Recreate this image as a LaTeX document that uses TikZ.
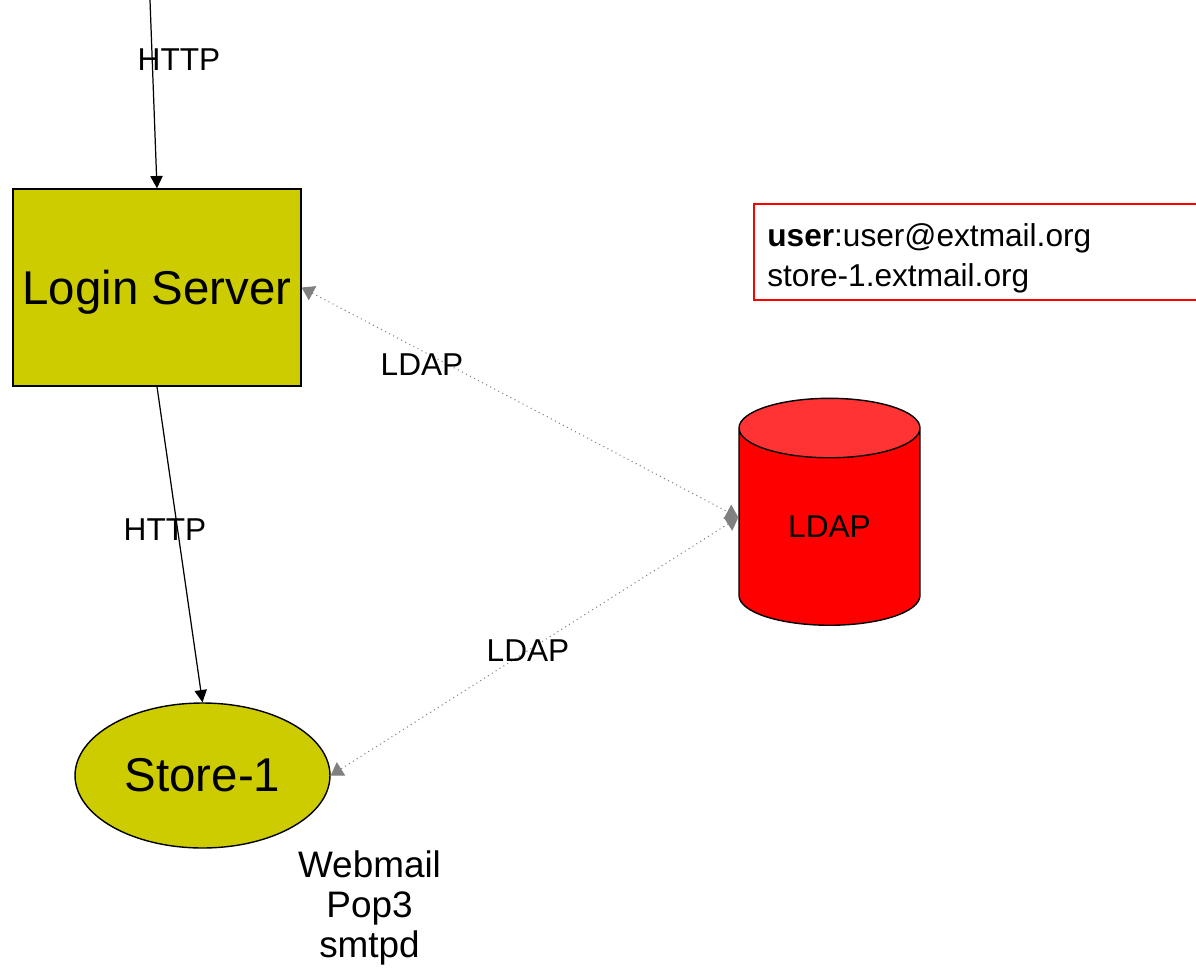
\documentclass[tikz,border=0pt]{standalone}
\usepackage{fontspec}
\setmainfont{Liberation Sans}
\usetikzlibrary{shapes.geometric,arrows.meta}

\begin{document}
\begin{tikzpicture}[x=0.02cm,y=-0.02cm,
olive/.style={draw,fill=oliveyellow,line width=0.8pt,inner sep=0pt},
http/.style={-{Triangle[length=7pt,width=7pt]},line width=0.7pt},
ldap/.style={{Triangle[length=7pt,width=9pt,fill=arrowgray,color=arrowgray]}-{Triangle[length=7pt,width=9pt,fill=arrowgray,color=arrowgray]},
  draw=arrowgray,dotted,line width=0.6pt},
small/.style={font=\fontsize{18}{20}\selectfont,inner sep=0pt}]
\definecolor{oliveyellow}{HTML}{CCCC00}
\definecolor{arrowgray}{HTML}{808080}
\definecolor{cylred}{HTML}{FF0000}
\definecolor{cyltop}{HTML}{FF3333}
\useasboundingbox (0,0) rectangle (1196,977);

% servers
\node[olive,rectangle,minimum width=5.76cm,minimum height=3.94cm,text depth=0pt,
  font=\fontsize{27}{30}\selectfont] (login) at (157,287.5) {Login Server};
\node[olive,ellipse,minimum width=5.1cm,minimum height=2.9cm,
  font=\fontsize{27}{30}\selectfont] (store) at (202.5,775.5) {Store-1};
\node[cylinder,shape border rotate=90,aspect=0.72,draw,line width=0.8pt,
  cylinder uses custom fill,cylinder body fill=cylred,cylinder end fill=cyltop,
  minimum width=3.62cm,minimum height=4.54cm,small] (ldapdb) at (829.5,527) {LDAP};

% user box
\draw[red,line width=0.7pt] (754,204) rectangle (1210,300);
\node[anchor=north west,align=left,inner sep=0pt,font=\fontsize{18}{23}\selectfont] (usertext) at (767,223)
  {\textbf{user}:user@extmail.org\\store-1.extmail.org};

\node[font=\fontsize{21}{22.7}\selectfont,align=center,inner sep=0pt] (services) at (369.5,908)
  {Webmail\\Pop3\\smtpd};

% connections
\coordinate (client) at (150,0);
\draw[http] (client) -- (login.north);
\draw[http] (login.south) -- (store.north);
\draw[ldap] (login.east) -- (ldapdb.174);
\draw[ldap] (ldapdb.174) -- (store.east);

% labels
\node[small] (http1) at (179,60) {HTTP};
\node[small] (http2) at (165,530) {HTTP};
\node[small] (ldap1) at (422,365) {LDAP};
\node[small] (ldap2) at (528,651) {LDAP};
\end{tikzpicture}
\end{document}
